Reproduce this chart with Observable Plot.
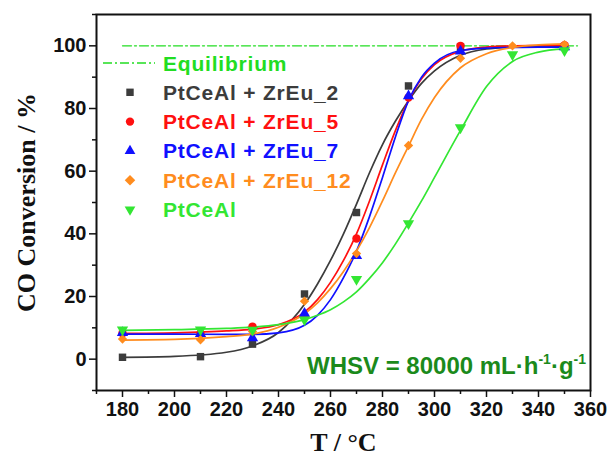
<!DOCTYPE html>
<html><head><meta charset="utf-8">
<script src="https://cdn.jsdelivr.net/npm/d3@7"></script>
<script src="https://cdn.jsdelivr.net/npm/@observablehq/plot@0.6"></script>
<style>
body{margin:0;background:#fff;}
#wrap{position:relative;width:609px;height:461px;}
#wrap svg{display:block}
#overlay{position:absolute;left:0;top:0;pointer-events:none;overflow:visible}
</style></head><body><div id="wrap"></div>
<script>
// ---- data ----
const seriesNames = ["PtCeAl + ZrEu_2", "PtCeAl + ZrEu_5", "PtCeAl + ZrEu_7", "PtCeAl + ZrEu_12", "PtCeAl"];
const seriesColors = ["#3c3c3c", "#ff1010", "#1010ff", "#ff8c1e", "#33e633"];
const seriesSymbols = ["square", "circle", "triangle", "diamond2", "triangle"];
const seriesRotate = [0, 0, 0, 0, 180];

// measured points (T in °C, CO conversion %)
const pointT = [180, 210, 230, 250, 270, 290, 310, 330, 350];
const zr2Points  = [0.6, 0.8, 4.8, 20.8, 46.8, 87.2, 99.6, null, 99.6];
const zr5Points  = [8.3, 8.2, 10.4, 13.5, 38.5, 83.5, 100.0, null, 100.2];
const zr7Points  = [8.4, 8.1, 6.8, 14.6, 33.0, 84.0, 98.3, null, 99.6];
const zr12Points = [6.4, 6.2, 8.8, 18.5, 33.7, 68.2, 96.0, 100.0, 100.4];
const ptPoints   = [9.4, 9.4, 9.3, 12.6, 25.5, 43.3, 73.9, 97.2, 98.5];

// fitted curves
const curveT   = [180, 200, 220, 230, 240, 250, 255, 260, 265, 270, 275, 280, 285, 290, 295, 300, 310, 320, 330, 340, 350];
const zr2Fit   = [0.6, 0.9, 2.2, 4.2, 8.5, 17.5, 24, 31.5, 40, 49.5, 59.5, 68.5, 76, 82.5, 88, 92, 97, 99, 99.6, 99.8, 99.8];
const zr5Fit   = [8.2, 8.4, 9.0, 9.6, 11, 15, 19, 24.5, 31.5, 40, 50.5, 62, 73, 82.5, 89.5, 94, 98.3, 99.6, 100, 100.1, 100.2];
const zr7Fit   = [8.0, 8.0, 7.9, 7.9, 8.4, 10.8, 14, 19, 26, 34.5, 45.5, 58, 71, 82.5, 90, 94.5, 98.5, 99.3, 99.5, 99.6, 99.6];
const zr12Fit  = [6.1, 6.3, 7.2, 8.0, 10.2, 14.5, 18, 22.5, 28, 34.5, 42, 50.5, 59.5, 68, 76.5, 83.5, 93, 97.5, 99.5, 100.3, 100.6];
const ptFit    = [9.2, 9.4, 9.8, 10.2, 11.0, 12.6, 14, 15.8, 18.3, 21.5, 25.8, 30.8, 36.8, 43.5, 50.5, 58, 73, 87, 95, 98, 99];

const equilibriumLabel = "Equilibrium";
const equilibriumT = [180, 355];
const equilibriumValue = 100;

const xTicks = [180, 200, 220, 240, 260, 280, 300, 320, 340, 360];
const xMinorTicks = [170, 190, 210, 230, 250, 270, 290, 310, 330, 350];
const yTicks = [0, 20, 40, 60, 80, 100];
const yMinorTicks = [-10, 10, 30, 50, 70, 90, 110];

const xTitle = "T / °C";
const yTitle = "CO Conversion / %";
const whsvMain = ["WHSV = 80000 mL·h", "·g"];
const whsvSup = "-1";

// ---- build tables ----
const pointArrays = [zr2Points, zr5Points, zr7Points, zr12Points, ptPoints];
const fitArrays = [zr2Fit, zr5Fit, zr7Fit, zr12Fit, ptFit];
const points = [];
pointArrays.forEach((arr, i) => arr.forEach((v, j) => {
  if (v != null) points.push({name: seriesNames[i], T: pointT[j], v, rot: seriesRotate[i]});
}));
const fits = [];
fitArrays.forEach((arr, i) => arr.forEach((v, j) => fits.push({name: seriesNames[i], T: curveT[j], v})));
const eq = equilibriumT.map(T => ({T, v: equilibriumValue}));

const W = 609, H = 461;
const serif = "'Liberation Serif', 'Times New Roman', serif";
const chart = Plot.plot({
  width: W, height: H,
  marginLeft: 96, marginRight: 19, marginTop: 14, marginBottom: 71,
  x: {domain: [170, 360]},
  y: {domain: [-10, 110]},
  color: {domain: seriesNames, range: seriesColors},
  symbol: {domain: seriesNames, range: seriesSymbols},
  style: {fontFamily: "'Liberation Sans', Arial, sans-serif", fontWeight: "bold", fontSize: "20px", color: "#111", background: "#fff", overflow: "visible"},
  marks: [
    Plot.axisX(xMinorTicks, {tickSize: 4, tickFormat: () => "", label: null, strokeWidth: 1.5}),
    Plot.axisX(xTicks, {tickSize: 7, tickPadding: 4, label: null, strokeWidth: 1.5, fontSize: 20, fontWeight: "bold"}),
    Plot.axisY(yMinorTicks, {tickSize: 4, tickFormat: () => "", label: null, strokeWidth: 1.5}),
    Plot.axisY(yTicks, {tickSize: 7, tickPadding: 3, label: null, strokeWidth: 1.5, fontSize: 20, fontWeight: "bold"}),
    Plot.line(eq, {x: "T", y: "v", stroke: "#22dd22", strokeWidth: 1.3, strokeDasharray: "9,3,2,3"}),
    Plot.line(fits, {x: "T", y: "v", z: "name", stroke: "name", strokeWidth: 1.7, curve: "monotone-x"}),
    Plot.dot(points, {x: "T", y: "v", symbol: "name", fill: "name", r: 4.2, rotate: "rot"}),
    Plot.frame({stroke: "#111", strokeWidth: 2}),
    Plot.text([yTitle], {frameAnchor: "left", textAnchor: "middle", lineAnchor: "middle", rotate: -90, dx: -70, fontFamily: serif, fontSize: 26, fontWeight: "bold", fill: "#111"}),
    Plot.text([xTitle], {frameAnchor: "bottom", textAnchor: "middle", lineAnchor: "middle", dy: 52, fontFamily: serif, fontSize: 26, fontWeight: "bold", fill: "#111"})
  ]
});
const wrap = document.getElementById("wrap");
wrap.appendChild(chart);

// ---- legend & annotation overlay ----
const ov = d3.select(wrap).append("svg").attr("id", "overlay").attr("width", W).attr("height", H);
const font = "'Liberation Sans', Arial, sans-serif";
const rowY0 = 63, rowStep = 29.3, symX = 130, textX = 163;
const eqColor = "#22dd22";
ov.append("line").attr("x1", 103).attr("x2", 155).attr("y1", rowY0).attr("y2", rowY0)
  .attr("stroke", eqColor).attr("stroke-width", 1.3).attr("stroke-dasharray", "9,3,2,3");
ov.append("text").attr("x", textX).attr("y", rowY0).attr("dy", "0.36em")
  .attr("font-family", font).attr("font-weight", "bold").attr("font-size", 21).attr("letter-spacing", "0.8px")
  .attr("fill", eqColor).text(equilibriumLabel);
const symMap = {square: d3.symbolSquare, circle: d3.symbolCircle, triangle: d3.symbolTriangle, diamond2: d3.symbolSquare};
seriesNames.forEach((name, i) => {
  const y = rowY0 + rowStep * (i + 1);
  const s = seriesSymbols[i];
  const rot = s === "diamond2" ? 45 : seriesRotate[i];
  const size = s === "circle" ? 55 : s === "triangle" ? 50 : 55;
  ov.append("path").attr("d", d3.symbol(symMap[s], size)())
    .attr("transform", `translate(${symX},${y}) rotate(${rot})`).attr("fill", seriesColors[i]);
  ov.append("text").attr("x", textX).attr("y", y).attr("dy", "0.36em")
    .attr("font-family", font).attr("font-weight", "bold").attr("font-size", 21).attr("letter-spacing", "0.8px")
    .attr("fill", seriesColors[i]).text(name);
});
const wt = ov.append("text").attr("x", 586).attr("y", 374).attr("text-anchor", "end")
  .attr("font-family", font).attr("font-weight", "bold").attr("font-size", 24).attr("fill", "#1b8a1b");
wt.append("tspan").text(whsvMain[0]);
wt.append("tspan").attr("font-size", 14).attr("dy", -10).text(whsvSup);
wt.append("tspan").attr("dy", 10).text(whsvMain[1]);
wt.append("tspan").attr("font-size", 14).attr("dy", -10).text(whsvSup);
</script></body></html>
